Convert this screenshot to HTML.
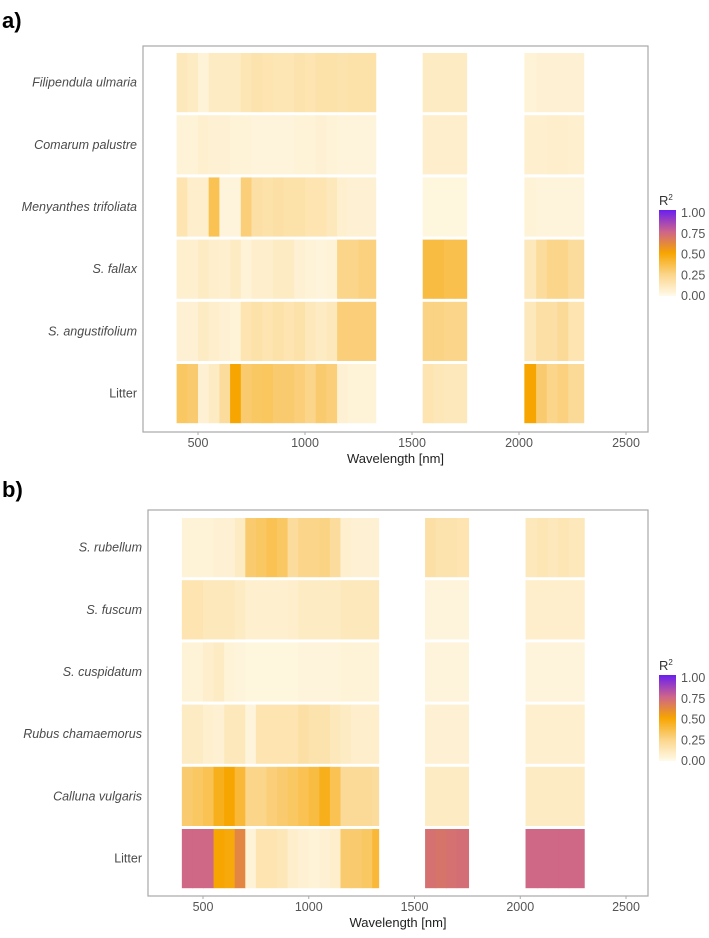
<!DOCTYPE html>
<html><head><meta charset="utf-8"><style>
body{margin:0;background:#fff;}
svg text{font-family:"Liberation Sans",sans-serif;}
</style></head><body>
<svg id="c" width="709" height="933" xmlns="http://www.w3.org/2000/svg">
<defs>
<linearGradient id="lg" x1="0" y1="1" x2="0" y2="0">
<stop offset="0" stop-color="#fffaea"/><stop offset="0.25" stop-color="#fbd58a"/><stop offset="0.5" stop-color="#f7a500"/><stop offset="0.75" stop-color="#cd648c"/><stop offset="1" stop-color="#6a1ff0"/>
</linearGradient>
</defs>
</svg>
<script>
const bins1=[400,450,500,550,600,650,700,750,800,850,900,950,1000,1050,1100,1150,1200,1250,1300];
const end1=1330;
const bins2=[1550,1600,1650,1700];
const end2=1755;
const bins3=[2025,2080,2130,2180,2230];
const end3=2302;
const xTicks=[500,1000,1500,2000,2500];
const legendTicks=[1.00,0.75,0.50,0.25,0.00];
const rowsA=["Filipendula ulmaria","Comarum palustre","Menyanthes trifoliata","S. fallax","S. angustifolium","Litter"];
const rowsB=["S. rubellum","S. fuscum","S. cuspidatum","Rubus chamaemorus","Calluna vulgaris","Litter"];
const a1=[
[0.12,0.1,0.05,0.1,0.1,0.1,0.14,0.16,0.15,0.14,0.14,0.16,0.15,0.17,0.17,0.16,0.17,0.17,0.17],
[0.05,0.05,0.07,0.06,0.06,0.05,0.05,0.04,0.04,0.04,0.04,0.05,0.05,0.06,0.05,0.04,0.04,0.04,0.04],
[0.15,0.08,0.08,0.35,0.04,0.04,0.28,0.18,0.17,0.18,0.17,0.17,0.15,0.15,0.12,0.07,0.06,0.06,0.06],
[0.07,0.07,0.1,0.08,0.07,0.1,0.05,0.08,0.08,0.1,0.1,0.06,0.05,0.04,0.05,0.25,0.25,0.27,0.27],
[0.06,0.06,0.1,0.08,0.06,0.05,0.15,0.17,0.15,0.17,0.15,0.17,0.12,0.1,0.12,0.28,0.28,0.28,0.28],
[0.32,0.3,0.06,0.1,0.2,0.5,0.3,0.32,0.33,0.3,0.3,0.28,0.25,0.3,0.28,0.06,0.05,0.05,0.05]];
const a2=[[0.1,0.1,0.1,0.1],[0.08,0.08,0.08,0.08],[0.03,0.03,0.03,0.03],[0.38,0.38,0.36,0.36],[0.26,0.26,0.25,0.25],[0.15,0.13,0.12,0.12]];
const a3=[[0.05,0.06,0.06,0.06,0.06],[0.07,0.07,0.08,0.08,0.07],[0.05,0.04,0.04,0.04,0.04],[0.12,0.2,0.25,0.25,0.2],[0.12,0.18,0.18,0.22,0.15],[0.5,0.3,0.25,0.27,0.22]];
const b1=[
[0.05,0.05,0.05,0.06,0.06,0.1,0.3,0.32,0.35,0.32,0.2,0.25,0.25,0.26,0.2,0.07,0.06,0.06,0.06],
[0.15,0.15,0.12,0.12,0.12,0.1,0.07,0.07,0.07,0.07,0.08,0.1,0.1,0.1,0.1,0.12,0.12,0.12,0.12],
[0.05,0.05,0.08,0.1,0.05,0.04,0.03,0.03,0.03,0.03,0.03,0.04,0.04,0.04,0.04,0.05,0.05,0.05,0.05],
[0.1,0.1,0.07,0.06,0.12,0.12,0.04,0.15,0.15,0.15,0.15,0.18,0.16,0.16,0.12,0.1,0.08,0.08,0.08],
[0.3,0.32,0.35,0.45,0.5,0.4,0.25,0.25,0.28,0.3,0.32,0.35,0.38,0.45,0.35,0.22,0.22,0.22,0.2],
[0.74,0.74,0.74,0.5,0.48,0.62,0.05,0.15,0.15,0.13,0.08,0.06,0.05,0.06,0.08,0.3,0.3,0.32,0.4]];
const b2=[[0.18,0.16,0.16,0.15],[0.04,0.04,0.04,0.04],[0.04,0.04,0.04,0.04],[0.06,0.06,0.06,0.06],[0.1,0.1,0.1,0.1],[0.7,0.69,0.7,0.71]];
const b3=[[0.12,0.14,0.12,0.14,0.12],[0.08,0.08,0.08,0.08,0.08],[0.04,0.04,0.04,0.04,0.04],[0.07,0.07,0.07,0.07,0.07],[0.1,0.1,0.1,0.1,0.1],[0.74,0.74,0.74,0.74,0.74]];

const NS="http://www.w3.org/2000/svg";
const svg=document.getElementById('c');
function mk(t,a,p){const e=document.createElementNS(NS,t);for(const k in a)e.setAttribute(k,a[k]);(p||svg).appendChild(e);return e;}
const stops=[[0,[255,250,234]],[0.25,[251,213,138]],[0.5,[247,165,0]],[0.75,[205,100,140]],[1,[106,31,240]]];
function col(v){v=Math.max(0,Math.min(1,v));for(let i=1;i<stops.length;i++){if(v<=stops[i][0]){const [a,c0]=stops[i-1],[b,c1]=stops[i];const t=(v-a)/(b-a);return 'rgb('+c0.map((c,j)=>Math.round(c+(c1[j]-c)*t)).join(',')+')';}}return 'rgb(106,31,240)';}

function panel(P){
  const g=mk('g',{});
  
  
  const x=w=>P.x500+(w-500)*(P.x2500-P.x500)/2000;
  const box=mk('rect',{x:P.left,y:P.top,width:P.right-P.left,height:P.bottom-P.top,fill:'#fff',stroke:'#a8a8a8','stroke-width':1.2},g);
  
  
  const blocks=[[bins1,end1,P.d1],[bins2,end2,P.d2],[bins3,end3,P.d3]];
  P.rows.forEach((r,ri)=>{
    const y0=P.r0+ri*P.step, h=P.step-3;
    blocks.forEach(([bins,end,d],bi)=>{
      bins.forEach((w,k)=>{
        const we=k<bins.length-1?bins[k+1]:end;
        const c=mk('rect',{x:x(w),y:y0,width:x(we)-x(w)+0.6,height:h,fill:col(d[ri][k])},g);
        
        
      });
    });
    const t=mk('text',{x:P.left-6,y:y0+h/2+4,'text-anchor':'end','font-size':12.5,fill:'#4a4a4a','font-style':r==='Litter'?'normal':'italic'},g);
    t.textContent=r;
    
    
  });
  xTicks.forEach(v=>{
    const l=mk('line',{x1:x(v),x2:x(v),y1:P.bottom,y2:P.bottom+3,stroke:'#a8a8a8'},g);
    
    
    const t=mk('text',{x:x(v),y:P.bottom+15,'text-anchor':'middle','font-size':12.5,fill:'#555'},g);
    t.textContent=v;
    
    
  });
  const xt=mk('text',{x:(P.left+P.right)/2,y:P.bottom+31,'text-anchor':'middle','font-size':13,fill:'#222'},g);
  xt.textContent='Wavelength [nm]';
  
  
  const pl=mk('text',{x:2,y:P.letterY,'font-size':22,'font-weight':'bold',fill:'#000'},g);
  pl.textContent=P.letter;
  
  
  const lg=mk('g',{},g);
  
  
  const lt=mk('text',{x:659,y:P.legTop-5,'font-size':13,fill:'#333'},lg);
  lt.innerHTML='R<tspan dy="-5" font-size="8">2</tspan>';
  
  
  const bar=mk('rect',{x:659,y:P.legTop,width:17,height:86,fill:'url(#lg)'},lg);
  
  
  legendTicks.forEach(v=>{
    const ty=P.legTop+3+(1-v)*83;
    const t=mk('text',{x:681,y:ty+4,'font-size':12.5,fill:'#555'},lg);
    t.textContent=v.toFixed(2);
    
    
  });
}
panel({name:'panel-a',letter:'a)',letterY:28,left:143,right:648,top:46,bottom:432,x500:198,x2500:626,r0:53,step:62.2,rows:rowsA,d1:a1,d2:a2,d3:a3,legTop:210});
panel({name:'panel-b',letter:'b)',letterY:497,left:148,right:648,top:510,bottom:896,x500:203,x2500:626,r0:518,step:62.2,rows:rowsB,d1:b1,d2:b2,d3:b3,legTop:675});
</script>
</body></html>
